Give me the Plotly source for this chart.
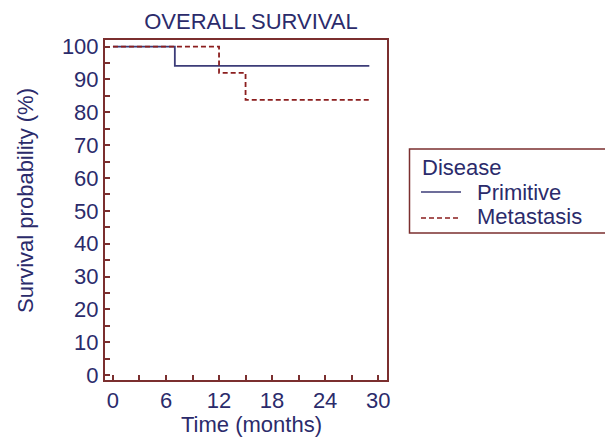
import plotly.graph_objects as go

prim_time = [0, 7, 29]
prim_surv = [100, 94.1, 94.1]
meta_time = [0, 12, 15, 29]
meta_surv = [100, 92.0, 83.8, 83.8]

series_names = ["Primitive", "Metastasis"]
legend_title = "Disease"

x_dtick = 6
x_minor = 3
y_dtick = 10
y_minor = 5

frame = "#7b2f2f"
txt = "#2b2b6b"
c_prim = "#3c3c78"
c_meta = "#8b1e1e"
font = "Liberation Sans, Arial, sans-serif"
fs = 22

# page offset of the figure inside the browser (default body margin)
off = 8
W, H = 613 - off, 440 - off
L, R, T, B = 105 - off, 226, 40 - off, 60
pw, ph = W - L - R, H - T - B


def px(sx):
    return (sx - off - L) / pw


def py(sy):
    return (H - B - (sy - off)) / ph


fig = go.Figure()
fig.add_trace(go.Scatter(x=prim_time, y=prim_surv, mode="lines", line_shape="hv",
                         name=series_names[0], line=dict(color=c_prim, width=1.8)))
fig.add_trace(go.Scatter(x=meta_time, y=meta_surv, mode="lines", line_shape="hv",
                         name=series_names[1], line=dict(color=c_meta, width=1.8, dash="5px,3px")))
# helper trace so the overlay axis carrying the minor x ticks is drawn
fig.add_trace(go.Scatter(x=prim_time, y=prim_surv, xaxis="x2", mode="lines",
                         line=dict(width=0, color="rgba(0,0,0,0)"), showlegend=False,
                         hoverinfo="skip"))

shapes = [
    dict(type="rect", xref="paper", yref="paper", x0=px(409.5), x1=px(608), y0=py(233), y1=py(149),
         line=dict(color=frame, width=1.5), fillcolor="rgba(0,0,0,0)", layer="below"),
    dict(type="line", xref="paper", yref="paper", x0=px(421), x1=px(461), y0=py(192), y1=py(192),
         line=dict(color=c_prim, width=1.6)),
    dict(type="line", xref="paper", yref="paper", x0=px(421), x1=px(461), y0=py(218), y1=py(218),
         line=dict(color=c_meta, width=1.6, dash="5px,3px")),
]
annotations = [
    dict(text=legend_title, xref="paper", yref="paper", x=px(420), y=py(167),
         xanchor="left", yanchor="middle", showarrow=False, font=dict(size=fs, color=txt)),
    dict(text=series_names[0], xref="paper", yref="paper", x=px(475), y=py(192),
         xanchor="left", yanchor="middle", showarrow=False, font=dict(size=fs, color=txt)),
    dict(text=series_names[1], xref="paper", yref="paper", x=px(475), y=py(217),
         xanchor="left", yanchor="middle", showarrow=False, font=dict(size=fs, color=txt)),
    dict(text="Survival probability (%)", xref="paper", yref="paper", x=px(25), y=py(201),
         xanchor="center", yanchor="middle", textangle=-90, showarrow=False,
         font=dict(size=fs, color=txt)),
    dict(text="Time (months)", xref="paper", yref="paper", x=px(251), y=py(424),
         xanchor="center", yanchor="middle", showarrow=False, font=dict(size=fs, color=txt)),
]

fig.update_layout(
    template="none",
    width=W, height=H,
    margin=dict(l=L, r=R, t=T, b=B, autoexpand=False),
    paper_bgcolor="white", plot_bgcolor="white",
    font=dict(family=font, color=txt, size=fs),
    title=dict(text="OVERALL SURVIVAL", x=(251 - off) / W, xanchor="center",
               y=1 - (21 - off) / H, yanchor="middle", font=dict(size=fs, color=txt)),
    showlegend=False,
    shapes=shapes,
    annotations=annotations,
    xaxis2=dict(overlaying="x", matches="x", side="bottom", anchor="y",
                tickmode="linear", tick0=x_minor, dtick=x_minor,
                ticks="inside", ticklen=5, tickwidth=1.5, tickcolor=frame,
                showticklabels=False, showline=False, showgrid=False, zeroline=False,
                automargin=False),
)
fig.layout.xaxis.update(range=[-0.9, 31], tickmode="linear", tick0=0, dtick=x_dtick,
                        ticks="inside", ticklen=5, tickwidth=1.5, tickcolor=frame,
                        showline=True, linecolor=frame, linewidth=2, mirror=True, showgrid=False,
                        zeroline=False, automargin=False,
                        tickfont=dict(size=fs, color=txt))
fig.update_yaxes(range=[-1.5, 102], tickmode="linear", tick0=0, dtick=y_dtick,
                 ticks="inside", ticklen=5, tickwidth=1.5, tickcolor=frame,
                 minor=dict(dtick=y_minor, ticks="inside", ticklen=5, tickwidth=1.5, tickcolor=frame),
                 showline=True, linecolor=frame, linewidth=2, mirror=True, showgrid=False,
                 zeroline=False, automargin=False,
                 tickfont=dict(size=fs, color=txt))

fig.write_html("out.html")
